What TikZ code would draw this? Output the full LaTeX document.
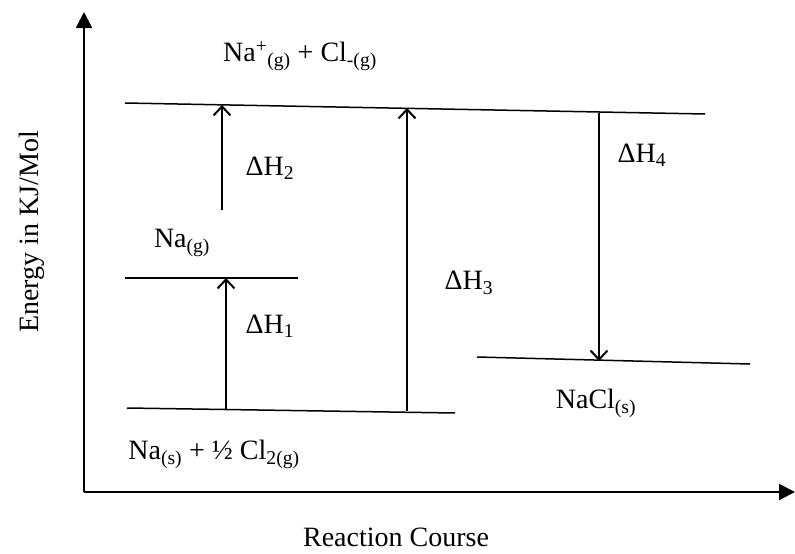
\documentclass[tikz,border=0pt]{standalone}
\usepackage{fontspec}
\setmainfont{Liberation Serif}
\usetikzlibrary{positioning,arrows.meta}
\tikzset{
  bh/.style={font=\fontsize{28}{32}\selectfont, text=black},
  bhlvl/.style={line width=1.5pt, draw=black},
  bharr/.style={-{Straight Barb[length=9pt,width=17pt,line width=2pt]}, line width=1.6pt},
  bhaxis/.style={-{Triangle[length=16pt,width=16pt]}, line width=2pt},
  bhlbl/.style={bh, inner sep=1pt},
}

\begin{document}
\begin{tikzpicture}[x=1pt, y=-1pt, bh]
    \useasboundingbox (0,0) rectangle (795,554);

    % axes
    \coordinate (o) at (84,492);
    \coordinate (ytop) at (84,12);
    \coordinate (xend) at (795,492);
    \draw[bhaxis] (o) -- (ytop);
    \draw[bhaxis] (o) -- (xend);
    \node[bhlbl, rotate=90] (ylab) at (32,232) {Energy in KJ/Mol};
    \node[bhlbl] (xlab) at (396,537) {Reaction Course};

    % levels
    \coordinate (tl) at (125,103);
    \coordinate (tr) at (705,114);
    \coordinate (gl) at (125,278);
    \coordinate (gr) at (298,278);
    \coordinate (sl) at (127,408);
    \coordinate (sr) at (455,413);
    \coordinate (cl) at (477,357);
    \coordinate (cr) at (750,364);
    \draw[bhlvl] (tl) -- (tr);
    \draw[bhlvl] (gl) -- (gr);
    \draw[bhlvl] (sl) -- (sr);
    \draw[bhlvl] (cl) -- (cr);

    % level names
    \node[bhlbl] (ions) at (300,56) {Na\textsuperscript{+}\textsubscript{(g)} + Cl\textsubscript{-(g)}};
    \node[bhlbl] (nag) at (182,243) {Na\textsubscript{(g)}};
    \node[bhlbl] (elem) at (214,454) {Na\textsubscript{(s)} + ½ Cl\textsubscript{2(g)}};
    \node[bhlbl] (nacl) at (596,403) {NaCl\textsubscript{(s)}};

    % arrow ends
    \coordinate (h1a) at (226,410);
    \coordinate (h1b) at (226,278);
    \coordinate (h2a) at (222,210);
    \coordinate (h2b) at (222,105);
    \coordinate (h3a) at (407,411);
    \coordinate (h3b) at (407,108);
    \coordinate (h4a) at (599,113);
    \coordinate (h4b) at (599,361);

    \draw[bharr] (h1a) -- (h1b);
    \draw[bharr] (h2a) -- (h2b);
    \draw[bharr] (h3a) -- (h3b);
    \draw[bharr] (h4a) -- (h4b);

    \node[bhlbl] (dh1) at (270,326) {ΔH\textsubscript{1}};
    \node[bhlbl] (dh2) at (270,168) {ΔH\textsubscript{2}};
    \node[bhlbl] (dh3) at (469,283) {ΔH\textsubscript{3}};
    \node[bhlbl] (dh4) at (642,155) {ΔH\textsubscript{4}};
  \end{tikzpicture}
\end{document}
